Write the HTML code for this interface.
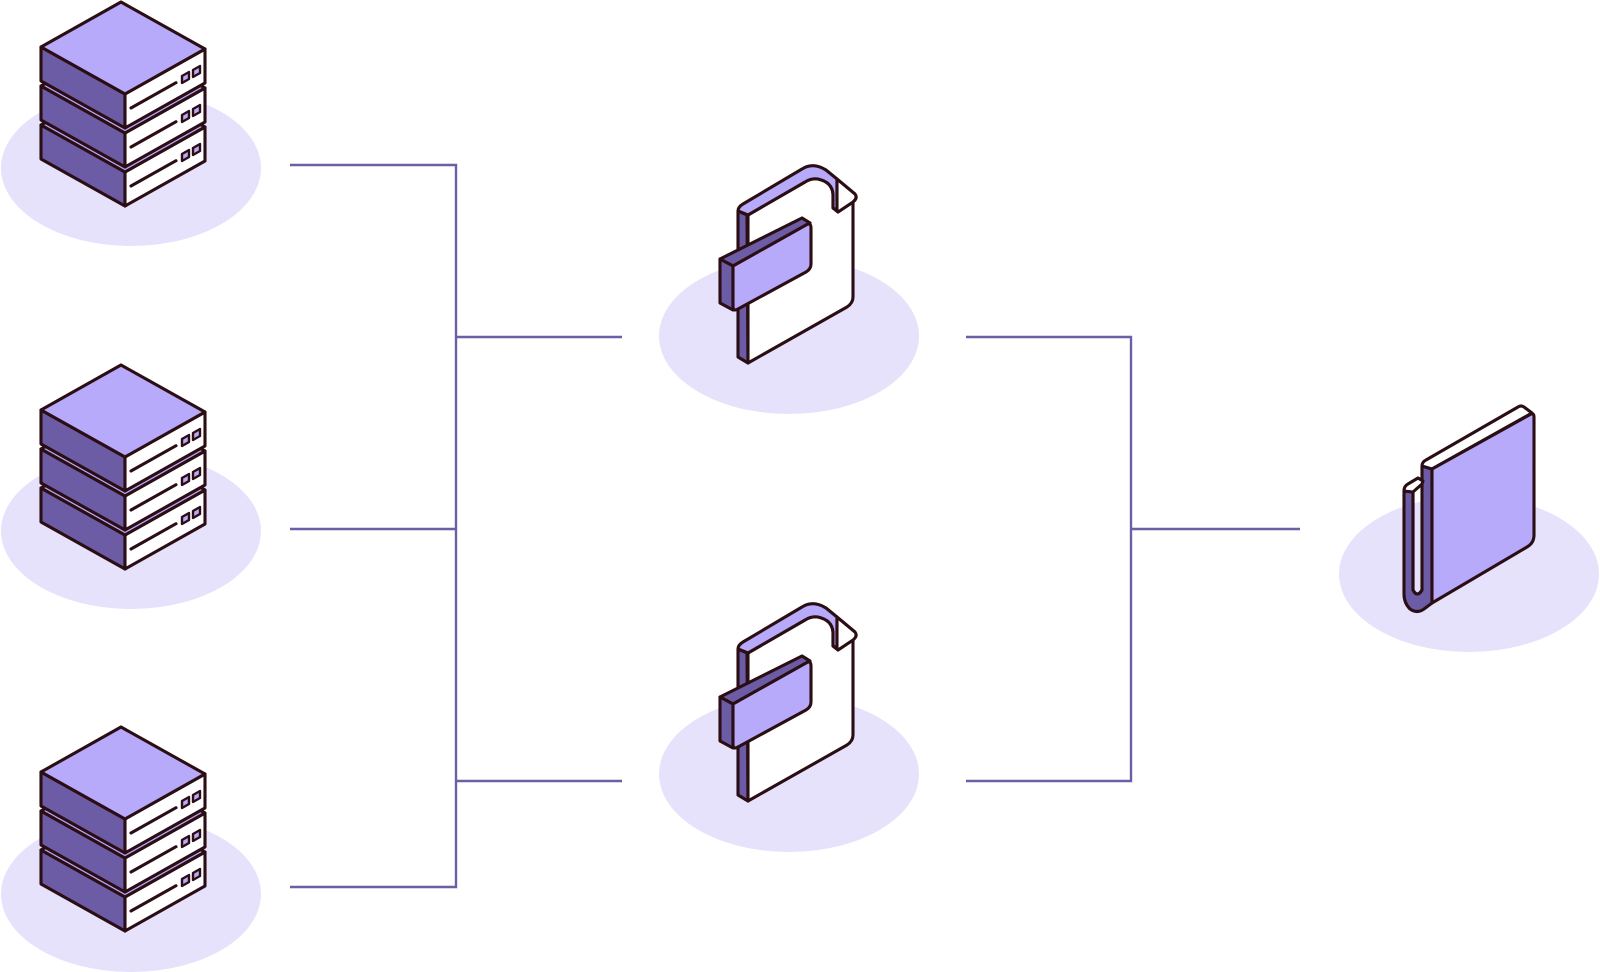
<!DOCTYPE html>
<html><head><meta charset="utf-8"><style>
html,body{margin:0;padding:0;background:#fff;}
svg{display:block;}
</style></head><body>
<svg width="1600" height="972" viewBox="0 0 1600 972" xmlns="http://www.w3.org/2000/svg">
<defs>
<g id="server" stroke="#2b0e14" stroke-width="3.1" stroke-linejoin="round" stroke-linecap="round">
  <!-- bottom box -->
  <polygon points="41,125 125,172 125,206 41,159" fill="#6c5ca6"/>
  <polygon points="125,172 205,127 205,161 125,206" fill="#ffffff"/>
  <polygon points="121,80 205,127 125,172 41,125" fill="#b8aafb"/>
  <line x1="131" y1="186" x2="176" y2="160.7"/>
  <polygon points="182,161 189,157 189,150 182,154" fill="#b8aafb" stroke-width="2.4"/>
  <polygon points="193,155 200,151 200,144 193,148" fill="#b8aafb" stroke-width="2.4"/>
  <!-- middle box -->
  <polygon points="41,86 125,133 125,167 41,120" fill="#6c5ca6"/>
  <polygon points="125,133 205,88 205,122 125,167" fill="#ffffff"/>
  <polygon points="121,41 205,88 125,133 41,86" fill="#b8aafb"/>
  <line x1="131" y1="147" x2="176" y2="121.7"/>
  <polygon points="182,122 189,118 189,111 182,115" fill="#b8aafb" stroke-width="2.4"/>
  <polygon points="193,116 200,112 200,105 193,109" fill="#b8aafb" stroke-width="2.4"/>
  <!-- top box -->
  <polygon points="41,47 125,94 125,128 41,81" fill="#6c5ca6"/>
  <polygon points="125,94 205,49 205,83 125,128" fill="#ffffff"/>
  <polygon points="121,2 205,49 125,94 41,47" fill="#b8aafb"/>
  <line x1="131" y1="108" x2="176" y2="82.7"/>
  <polygon points="182,83 189,79 189,72 182,76" fill="#b8aafb" stroke-width="2.4"/>
  <polygon points="193,77 200,73 200,66 193,70" fill="#b8aafb" stroke-width="2.4"/>
</g>
<g id="lock" stroke="#2b0e14" stroke-width="3.1" stroke-linejoin="round" stroke-linecap="round">
  <!-- left thickness strip -->
  <path d="M738,211 L747,215 L748,363 L738,357 Z" fill="#6c5ca6"/>
  <!-- white front panel -->
  <path d="M748,215 L805,182 Q811,178 818,179 Q832,182 833,194 L833,208 L838,212 L853,202 L853,297 Q853,303 847,307 L748,363 Z" fill="#ffffff"/>
  <!-- arch band -->
  <path d="M738,211 Q738,207 743,204 L802,169 Q813,162 826,170 L837,179 L837,210 L833,208 L833,194 Q832,182 818,179 Q811,178 805,182 L748,215 Z" fill="#b8aafb"/>
  <!-- tab -->
  <path d="M837,179 L855,194 Q858,198 853,202 L838,212 L837,210 Z" fill="#ffffff"/>
  <!-- strap -->
  <path d="M720,259 L802,218 L810,223 L733,266 Z" fill="#6c5ca6"/>
  <path d="M720,259 L733,266 L733,310 L720,303 Z" fill="#6c5ca6"/>
  <path d="M733,266 L806,225 Q811,222 811,228 L811,264 Q811,269 806,272 L738,309 Q733,312 733,306 Z" fill="#b8aafb"/>
</g>
</defs>

<!-- ellipses -->
<g fill="#e7e2fc">
  <ellipse cx="131" cy="168" rx="130" ry="78"/>
  <ellipse cx="131" cy="531" rx="130" ry="78"/>
  <ellipse cx="131" cy="894" rx="130" ry="78"/>
  <ellipse cx="789" cy="336" rx="130" ry="78"/>
  <ellipse cx="789" cy="774" rx="130" ry="78"/>
  <ellipse cx="1469" cy="574" rx="130" ry="78"/>
</g>

<!-- connectors -->
<g stroke="#6d5fa6" stroke-width="2.4" fill="none">
  <polyline points="290,165 456,165 456,887 290,887"/>
  <line x1="290" y1="529" x2="456" y2="529"/>
  <line x1="456" y1="337" x2="622" y2="337"/>
  <line x1="456" y1="781" x2="622" y2="781"/>
  <polyline points="966,337 1131,337 1131,781 966,781"/>
  <line x1="1131" y1="529" x2="1300" y2="529"/>
</g>

<!-- servers -->
<use href="#server"/>
<use href="#server" transform="translate(0,363)"/>
<use href="#server" transform="translate(0,725)"/>

<!-- locks -->
<use href="#lock"/>
<use href="#lock" transform="translate(0,438)"/>

<!-- book -->
<g stroke="#2b0e14" stroke-width="3.1" stroke-linejoin="round" stroke-linecap="round">
  <!-- back cover + U fold -->
  <path d="M1404,491 L1413,492 L1413,590 Q1417,598 1422,590 L1422,466 L1432,469 L1432,603 L1424,609 Q1417,614 1410,609 Q1404,603 1404,594 Z" fill="#6c5ca6"/>
  <path d="M1413,492 L1413,590 Q1417.5,598 1422,590" fill="none"/>
  <!-- back top white -->
  <path d="M1404,491 Q1404,486 1408,484 L1418,478 L1423,481 L1422,484 L1413,492 Z" fill="#ffffff"/>
  <!-- front pages top white -->
  <path d="M1422,466 Q1422,462 1426,460 L1518,407 Q1521,405 1524,407 L1532,413 L1432,469 Z" fill="#ffffff"/>
  <!-- front cover -->
  <path d="M1432,469 L1531,414 Q1534,413 1534,417 L1534,535 Q1534,543 1527,547 L1432,603 Z" fill="#b8aafb"/>
</g>
</svg>
</body></html>
